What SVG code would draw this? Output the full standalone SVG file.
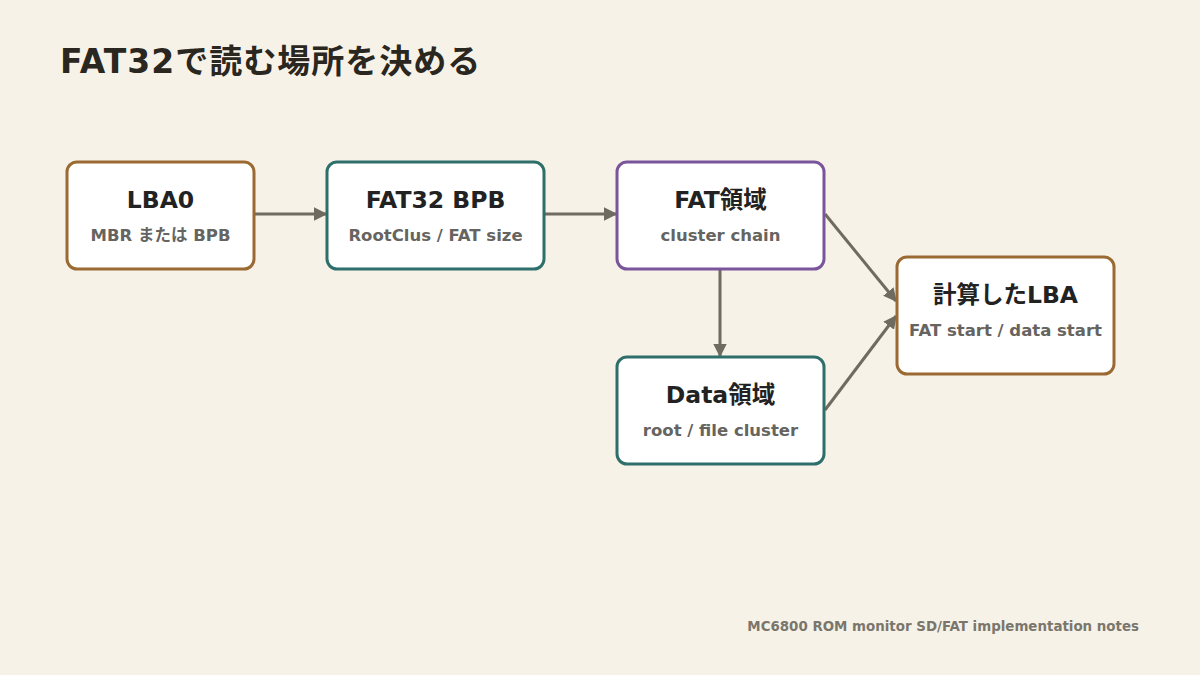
<svg xmlns="http://www.w3.org/2000/svg" width="1200" height="675" viewBox="0 0 1200 675">
<defs>
<style>
.bg{fill:#f7f2e8}
.box{fill:#ffffff;stroke-width:3}
.brown{stroke:#9b6a33}
.teal{stroke:#2f6f6b}
.purple{stroke:#7b559b}
.t{font-family:"DejaVu Sans","Noto Sans CJK JP",sans-serif;font-weight:700;font-size:23.5px;fill:#222222;text-anchor:middle}
.s{font-family:"DejaVu Sans","Noto Sans CJK JP",sans-serif;font-weight:700;font-size:16.5px;fill:#666460;text-anchor:middle}
.title{font-family:"DejaVu Sans","Noto Sans CJK JP",sans-serif;font-weight:700;font-size:33px;letter-spacing:1px;fill:#2a2620}
.foot{font-family:"DejaVu Sans","Noto Sans CJK JP",sans-serif;font-weight:700;font-size:13.4px;fill:#7a766c;text-anchor:end}
.edge{stroke:#6f6b60;stroke-width:3;fill:none}
</style>
<marker id="arr" viewBox="0 0 10 10" refX="9" refY="5" markerWidth="4.5" markerHeight="4.5" orient="auto" markerUnits="strokeWidth">
<path d="M0,0 L10,5 L0,10 z" fill="#6f6b60"/>
</marker>
</defs>
<rect class="bg" x="0" y="0" width="1200" height="675"/>
<text class="title" x="60" y="73">FAT32で読む場所を決める</text>
<g id="connectors">
<line class="edge" x1="255" y1="214" x2="326" y2="214" marker-end="url(#arr)"/>
<line class="edge" x1="545" y1="214" x2="616" y2="214" marker-end="url(#arr)"/>
<line class="edge" x1="720" y1="270" x2="720" y2="356" marker-end="url(#arr)"/>
<line class="edge" x1="825" y1="214" x2="896" y2="301" marker-end="url(#arr)"/>
<line class="edge" x1="825" y1="410" x2="896" y2="316" marker-end="url(#arr)"/>
</g>
<g id="lba0">
<rect class="box brown" x="67" y="162" width="187" height="107" rx="10"/>
<text class="t" x="160.5" y="208">LBA0</text>
<text class="s" x="160.5" y="241">MBR または BPB</text>
</g>
<g id="bpb">
<rect class="box teal" x="327" y="162" width="217" height="107" rx="10"/>
<text class="t" x="435.5" y="208">FAT32 BPB</text>
<text class="s" x="435.5" y="241">RootClus / FAT size</text>
</g>
<g id="fat">
<rect class="box purple" x="617" y="162" width="207" height="107" rx="10"/>
<text class="t" x="720.5" y="208">FAT領域</text>
<text class="s" x="720.5" y="241">cluster chain</text>
</g>
<g id="data">
<rect class="box teal" x="617" y="357" width="207" height="107" rx="10"/>
<text class="t" x="720.5" y="403">Data領域</text>
<text class="s" x="720.5" y="436">root / file cluster</text>
</g>
<g id="lba">
<rect class="box brown" x="897" y="257" width="217" height="117" rx="10"/>
<text class="t" x="1005.5" y="303">計算したLBA</text>
<text class="s" x="1005.5" y="336">FAT start / data start</text>
</g>
<text class="foot" x="1139" y="631">MC6800 ROM monitor SD/FAT implementation notes</text>
</svg>
